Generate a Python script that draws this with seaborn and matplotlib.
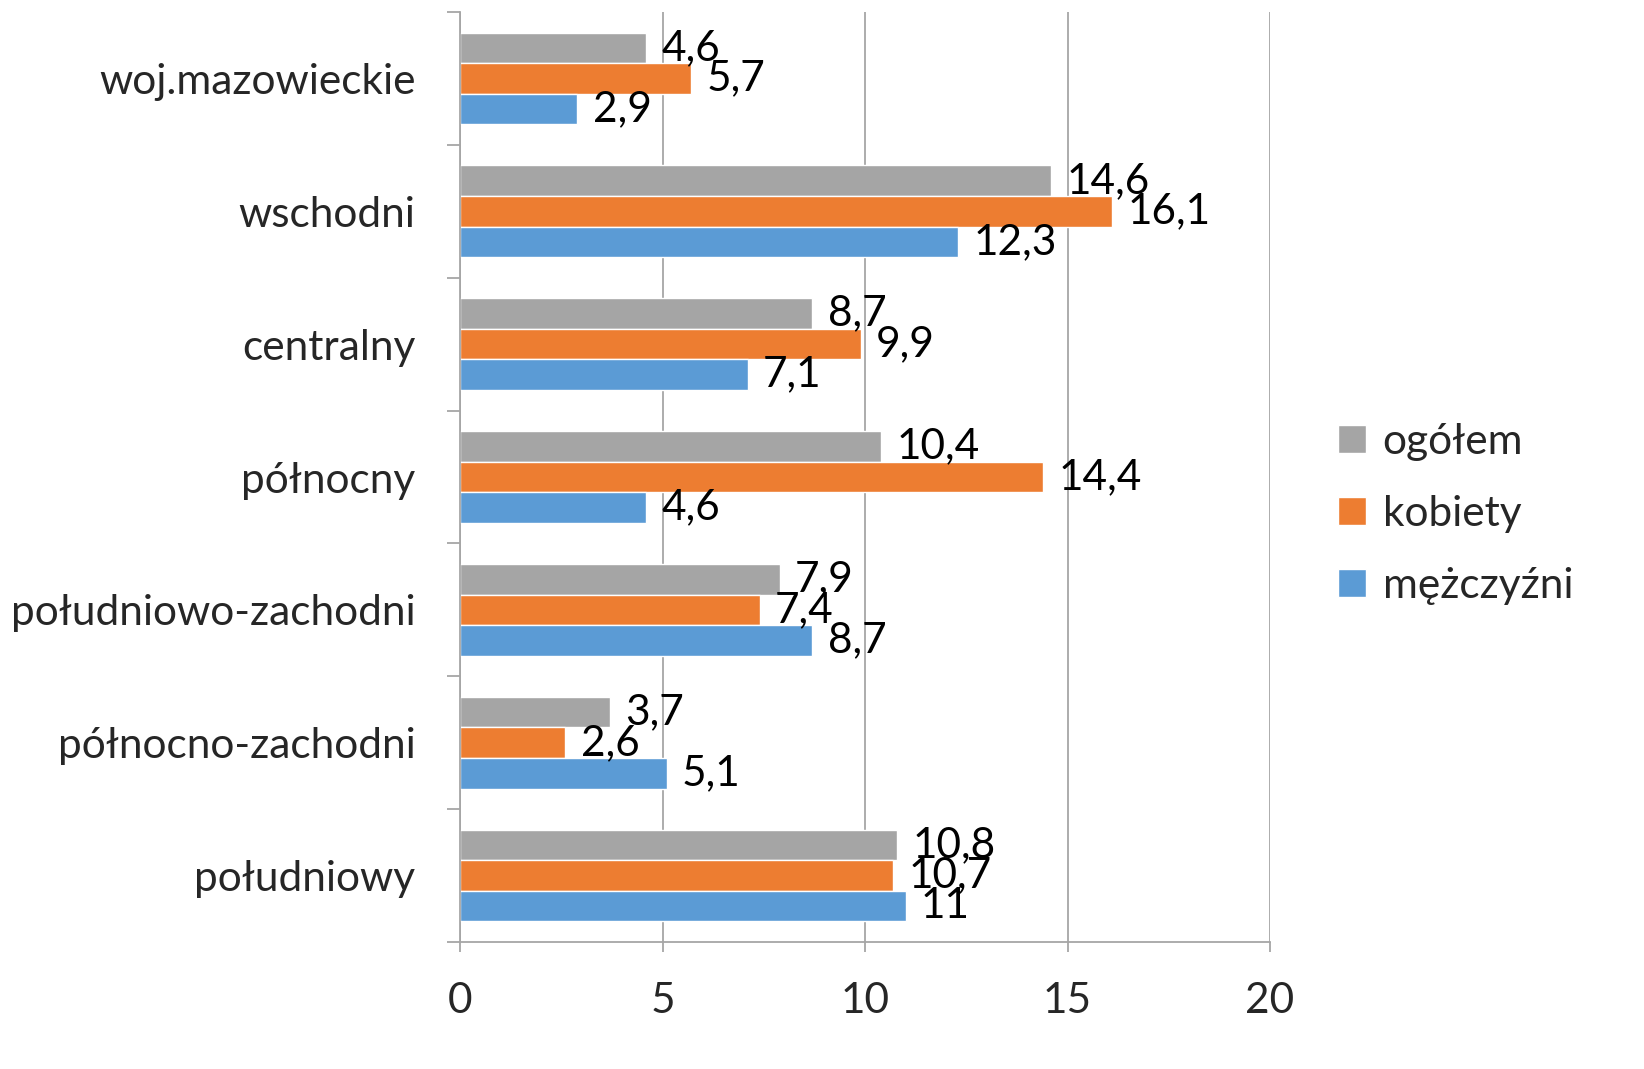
import numpy as np
import pandas as pd
import matplotlib
matplotlib.use('Agg')
import matplotlib.pyplot as plt
import seaborn as sns

# data
regions = ['woj.mazowieckie', 'wschodni', 'centralny', 'północny',
           'południowo-zachodni', 'północno-zachodni', 'południowy']
series = ['ogółem', 'kobiety', 'mężczyźni']
ogolem = [4.6, 14.6, 8.7, 10.4, 7.9, 3.7, 10.8]
kobiety = [5.7, 16.1, 9.9, 14.4, 7.4, 2.6, 10.7]
mezczyzni = [2.9, 12.3, 7.1, 4.6, 8.7, 5.1, 11.0]
colors = ['#A5A5A5', '#ED7D31', '#5B9BD5']
x_ticks = [0, 5, 10, 15, 20]

df = pd.DataFrame({
    'region': regions * 3,
    'series': [s for s in series for _ in regions],
    'value': ogolem + kobiety + mezczyzni,
})

sns.set_style('white')
plt.rcParams['font.family'] = ['Lato', 'DejaVu Sans']
FS = 30.5
GREY = '#A6A6A6'

fig = plt.figure(figsize=(16.44, 10.69), dpi=100)
ax = fig.add_axes([460 / 1644, 1 - 942 / 1069, 810 / 1644, 930 / 1069])

sns.barplot(data=df, x='value', y='region', hue='series', hue_order=series,
            order=regions, palette=colors, orient='h', width=0.69,
            saturation=1, ax=ax)

# value labels with decimal comma
vals = [ogolem, kobiety, mezczyzni]
for cont, v in zip(ax.containers, vals):
    ax.bar_label(cont, labels=[f'{x:g}'.replace('.', ',') for x in v],
                 padding=11, fontsize=FS, color='black')

ax.set_xlim(0, 20)
ax.set_ylim(6.5, -0.5)
ax.set_xticks(x_ticks)
ax.set_xlabel('')
ax.set_ylabel('')
ax.xaxis.grid(True, color=GREY, lw=1.3)
ax.set_axisbelow(True)

for s in ['top', 'right']:
    ax.spines[s].set_visible(False)
for s in ['left', 'bottom']:
    ax.spines[s].set_color(GREY)
    ax.spines[s].set_linewidth(1.3)

ax.set_yticks(np.arange(-0.5, 7, 1), minor=True)
ax.tick_params(axis='y', which='minor', length=9.5, width=1.3, color=GREY, left=True)
ax.tick_params(axis='y', which='major', length=0, pad=32, labelsize=FS)
ax.tick_params(axis='x', which='major', length=7, width=1.3, color=GREY,
               bottom=True, direction='out', pad=22, labelsize=FS)

handles, labels = ax.get_legend_handles_labels()
ax.get_legend().remove()
fig.legend(handles, labels, loc='center left',
           bbox_to_anchor=(1300 / 1644, 1 - 514 / 1069), frameon=False,
           fontsize=FS, handlelength=0.65, handleheight=0.65,
           handletextpad=0.4, labelspacing=0.8)

plt.savefig('out.png', dpi=100)
plt.close()
